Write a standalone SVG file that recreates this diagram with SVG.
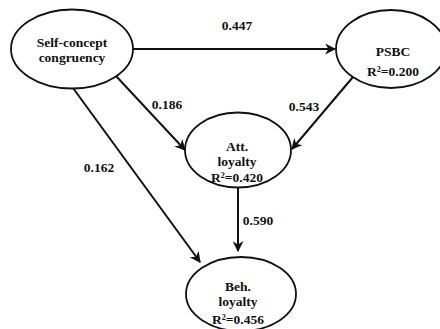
<svg xmlns="http://www.w3.org/2000/svg" width="440" height="329" viewBox="0 0 440 329">
<style>
.n ellipse{fill:#fff;stroke:#111;stroke-width:1.8}
text{font-family:"Liberation Serif","Times New Roman",serif;font-weight:bold;font-size:13.5px;fill:#111;text-anchor:middle}
.c line{stroke:#111;stroke-width:2;marker-end:url(#ah)}
</style>
<defs>
<marker id="ah" viewBox="0 0 10 10" refX="9" refY="5" markerWidth="5.5" markerHeight="5.5" orient="auto" markerUnits="strokeWidth">
<path d="M0,0 L10,5 L0,10 L3,5 Z" fill="#111"/>
</marker>
</defs>
<rect width="440" height="329" fill="#fff"/>
<g class="c" id="connectors">
<line x1="133" y1="49" x2="335" y2="49"/>
<line x1="116" y1="76" x2="185" y2="150"/>
<line x1="73" y1="88" x2="200" y2="262"/>
<line x1="353" y1="77" x2="292" y2="149"/>
<line x1="238" y1="188" x2="238" y2="251"/>
<text x="237" y="30">0.447</text>
<text x="167" y="109">0.186</text>
<text x="304" y="111">0.543</text>
<text x="99" y="172">0.162</text>
<text x="258" y="225">0.590</text>
</g>
<g class="n" id="self">
<ellipse cx="72" cy="49" rx="61" ry="39.5"/>
<text x="72" y="47">Self-concept</text>
<text x="72" y="62">congruency</text>
</g>
<g class="n" id="psbc">
<ellipse cx="391" cy="49" rx="55" ry="39"/>
<text x="393" y="56">PSBC</text>
<text x="393" y="76">R²=0.200</text>
</g>
<g class="n" id="att">
<ellipse cx="238" cy="150" rx="53" ry="37.5"/>
<text x="237" y="151">Att.</text>
<text x="237" y="166">loyalty</text>
<text x="237" y="182">R²=0.420</text>
</g>
<g class="n" id="beh">
<ellipse cx="241" cy="294" rx="55" ry="37"/>
<text x="238" y="291">Beh.</text>
<text x="238" y="306">loyalty</text>
<text x="238" y="324">R²=0.456</text>
</g>
</svg>
